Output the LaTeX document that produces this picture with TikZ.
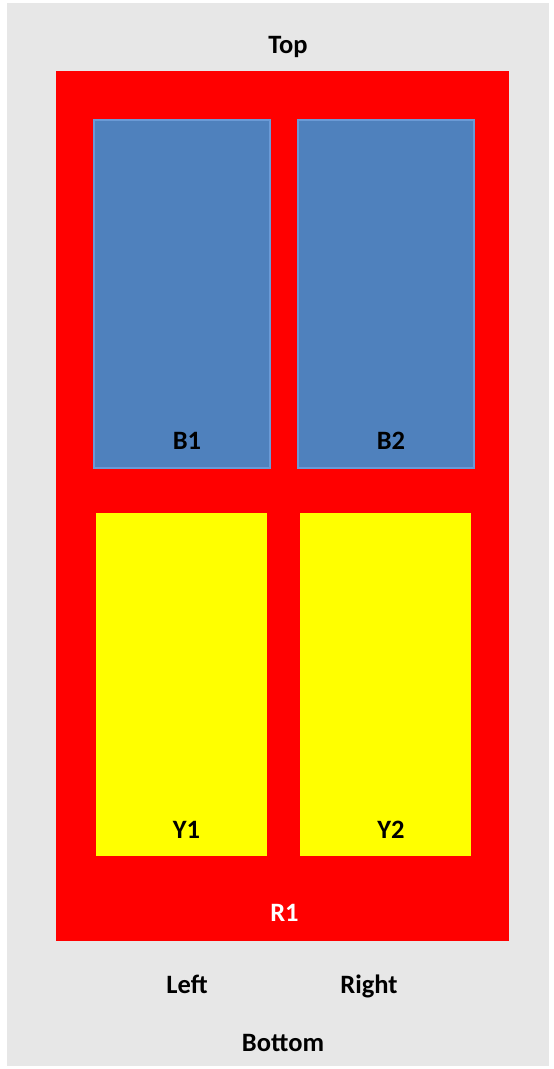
\documentclass[tikz,border=0pt]{standalone}
\usepackage{fontspec}
\setmainfont{Carlito}
\usepackage{xcolor}
\usetikzlibrary{positioning, calc}
\definecolor{panelgray}{HTML}{E7E7E7}
\definecolor{boxblue}{HTML}{4F81BD}
\definecolor{edgeblue}{HTML}{6A9AD6}
\definecolor{boxred}{HTML}{FF0000}
\definecolor{boxyellow}{HTML}{FFFF00}

\begin{document}
\begin{tikzpicture}[
    x=1pt, y=-1pt,
    panel/.style={rectangle, fill=panelgray, minimum width=542pt, minimum height=1063pt, inner sep=0pt},
    outer/.style={rectangle, fill=boxred, minimum width=453pt, minimum height=870pt, inner sep=0pt},
    blue/.style={rectangle, draw=edgeblue, line width=1.5pt, fill=boxblue, minimum width=176pt, minimum height=348pt, inner sep=0pt},
    yel/.style={rectangle, fill=boxyellow, minimum width=171pt, minimum height=343pt, inner sep=0pt},
    lbl/.style={font=\fontsize{26.5}{30}\selectfont\bfseries, text=black, inner sep=0pt, text height=17pt, text depth=0pt}
]
\useasboundingbox (0,0) rectangle (554,1069);

% background and red frame
\node[panel] (bg) at (278,534.5) {};
\node[outer] (r1) at (282.5,506) {};

% blue boxes
\node[blue] (b1) at (182,294) {};
\node[blue] (b2) at (386,294) {};
\node[lbl] at ($(b1.south)+(5,-28)$) {B1};
\node[lbl] at ($(b2.south)+(5,-28)$) {B2};

% yellow boxes
\node[yel] (y1) at (181.5,684.5) {};
\node[yel] (y2) at (385,684.5) {};
\node[lbl] at ($(y1.south)+(5,-26)$) {Y1};
\node[lbl] at ($(y2.south)+(6,-26)$) {Y2};

\node[lbl, text=white] at ($(r1.south)+(2,-28)$) {R1};

% sides
\node[lbl] (top) at (288,45) {Top};
\node[lbl] (left) at (187,985) {Left};
\node[lbl] (right) at (369,985) {Right};
\node[lbl] (bottom) at (283,1043) {Bottom};

\end{tikzpicture}
\end{document}
